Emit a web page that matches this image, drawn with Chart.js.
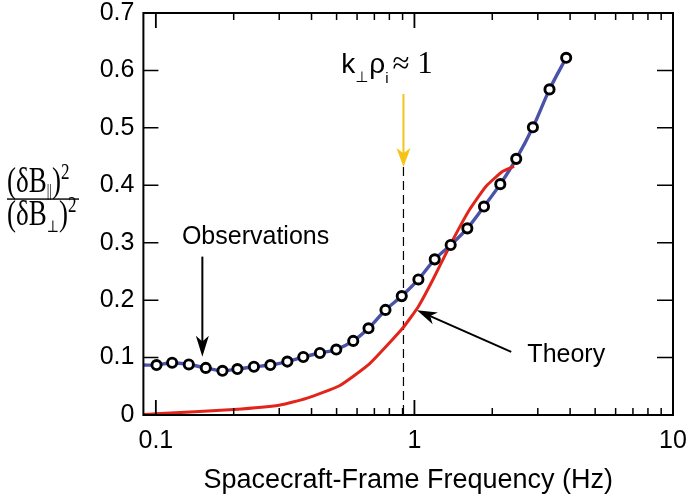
<!DOCTYPE html>
<html><head><meta charset="utf-8">
<script src="https://cdn.jsdelivr.net/npm/chart.js@4.4.0/dist/chart.umd.min.js"></script>
<style>html,body{margin:0;padding:0;background:#fff}#wrap{width:687px;height:500px}</style>
</head><body><div id="wrap"><canvas id="c" width="687" height="500"></canvas></div>
<script>
// ---- data ----
const obsFreq  = [0.1006, 0.1156, 0.1341, 0.156, 0.181, 0.2067, 0.2395, 0.2772, 0.3225, 0.3717, 0.431, 0.4985, 0.5799, 0.6644, 0.7727, 0.8933, 1.036, 1.198, 1.381, 1.602, 1.858, 2.148, 2.476, 2.872, 3.33, 3.863];
const obsValue = [0.087, 0.091, 0.088, 0.082, 0.077, 0.080, 0.084, 0.087, 0.093, 0.101, 0.108, 0.114, 0.129, 0.151, 0.183, 0.207, 0.236, 0.271, 0.296, 0.325, 0.363, 0.402, 0.446, 0.501, 0.567, 0.622];
const fitFreq  = [0.0895].concat(obsFreq);
const fitValue = [0.087].concat(obsValue);
const theoryFreq  = [0.0895, 0.1, 0.2, 0.3, 0.382, 0.513, 0.67, 0.9, 1.036, 1.177, 1.386, 1.63, 1.89, 2.19, 2.43];
const theoryValue = [0.001, 0.002, 0.0096, 0.017, 0.029, 0.051, 0.089, 0.151, 0.189, 0.235, 0.299, 0.357, 0.398, 0.424, 0.433];
const xMajorTicks = [0.1, 1, 10];
const xMinorTicks = [0.2,0.3,0.4,0.5,0.6,0.7,0.8,0.9,2,3,4,5,6,7,8,9];
const yTicks = [0, 0.1, 0.2, 0.3, 0.4, 0.5, 0.6, 0.7];
const kRhoFreq = 0.907;
const xTitle = 'Spacecraft-Frame Frequency (Hz)';

// ---- annotation placement (data coordinates) ----
const ann = {
  dashTop: 0.432,
  yellowTail: 0.559,
  kLabel: {f: 0.521, v: 0.596},
  obsText: {f: 0.243, v: 0.298},
  obsArrow: {f: 0.1513, v0: 0.2758, v1: 0.1016},
  thText: {f: 2.734, v: 0.0923},
  thArrow: {f0: 2.368, v0: 0.1098, f1: 1.023, v1: 0.1824},
  fracBar: 0.376
};

function pts(fs, vs){ return fs.map((f,i)=>({x:f, y:vs[i]})); }

function arrowHead(ctx, x0, y0, x1, y1, len, wid, color){
  const a = Math.atan2(y1-y0, x1-x0);
  const c = Math.cos(a), s = Math.sin(a);
  const bx = x1 - c*len, by = y1 - s*len;
  const nx = x1 - c*len*0.72, ny = y1 - s*len*0.72;
  ctx.fillStyle = color;
  ctx.beginPath();
  ctx.moveTo(x1, y1);
  ctx.lineTo(bx - s*wid/2, by + c*wid/2);
  ctx.lineTo(nx, ny);
  ctx.lineTo(bx + s*wid/2, by - c*wid/2);
  ctx.closePath(); ctx.fill();
}
function arrow(ctx, x0, y0, x1, y1, lw, len, wid, color){
  const a = Math.atan2(y1-y0, x1-x0);
  ctx.strokeStyle = color; ctx.lineWidth = lw;
  ctx.beginPath(); ctx.moveTo(x0, y0);
  ctx.lineTo(x1 - Math.cos(a)*len*0.6, y1 - Math.sin(a)*len*0.6); ctx.stroke();
  arrowHead(ctx, x0, y0, x1, y1, len, wid, color);
}
function parts(ctx, x, base, list){
  for (const [t, font, dy] of list){
    ctx.font = font; ctx.fillText(t, x, base + dy); x += ctx.measureText(t).width;
  }
  return x;
}

const deco = {
  id: 'deco',
  beforeDatasetsDraw(chart){
    const {ctx, chartArea:a, scales:{x, y}} = chart;
    const xp = x.getPixelForValue(kRhoFreq);
    ctx.save();
    ctx.strokeStyle = '#000'; ctx.lineWidth = 1.2; ctx.setLineDash([9,5]);
    ctx.beginPath(); ctx.moveTo(xp, y.getPixelForValue(ann.dashTop)); ctx.lineTo(xp, a.bottom); ctx.stroke();
    ctx.restore();
  },
  afterDatasetsDraw(chart){
    const {ctx, chartArea:a, scales:{x, y}} = chart;
    ctx.save();
    // ticks (inward)
    ctx.strokeStyle = '#000';
    const tick = (v, len, lw) => {
      const p = x.getPixelForValue(v); ctx.lineWidth = lw;
      ctx.beginPath(); ctx.moveTo(p, a.bottom); ctx.lineTo(p, a.bottom - len);
      ctx.moveTo(p, a.top); ctx.lineTo(p, a.top + len); ctx.stroke();
    };
    xMajorTicks.forEach(v => tick(v, 15, 1.8));
    xMinorTicks.forEach(v => tick(v, 7, 1.5));
    yTicks.forEach(v => {
      const p = y.getPixelForValue(v); ctx.lineWidth = 1.5;
      ctx.beginPath(); ctx.moveTo(a.left, p); ctx.lineTo(a.left + 15, p);
      ctx.moveTo(a.right, p); ctx.lineTo(a.right - 16, p); ctx.stroke();
    });
    // frame
    ctx.lineWidth = 2;
    ctx.strokeRect(a.left, a.top, a.right - a.left, a.bottom - a.top);

    // yellow arrow + label
    const kx = x.getPixelForValue(kRhoFreq);
    arrow(ctx, kx, y.getPixelForValue(ann.yellowTail), kx, y.getPixelForValue(ann.dashTop), 2, 19, 14, '#f6c416');
    ctx.fillStyle = '#000'; ctx.textBaseline = 'alphabetic'; ctx.textAlign = 'left';
    const kb = y.getPixelForValue(ann.kLabel.v);
    let tx = x.getPixelForValue(ann.kLabel.f);
    tx = parts(ctx, tx, kb, [['k','28px "Liberation Sans"',0],['\u22A5','15px "DejaVu Sans"',9]]);
    tx = parts(ctx, tx + 1, kb, [['\u03C1','28px "Liberation Sans"',0],['i','15px "Liberation Sans"',10]]);
    parts(ctx, tx + 4, kb, [['\u2248 1','31px "Liberation Serif"',0]]);

    // Observations
    ctx.font = '25px "Liberation Sans"';
    ctx.textAlign = 'center';
    ctx.fillText('Observations', x.getPixelForValue(ann.obsText.f), y.getPixelForValue(ann.obsText.v));
    const ox = x.getPixelForValue(ann.obsArrow.f);
    arrow(ctx, ox, y.getPixelForValue(ann.obsArrow.v0), ox, y.getPixelForValue(ann.obsArrow.v1), 2, 21, 13, '#000');
    // Theory
    ctx.fillStyle = '#000'; ctx.textAlign = 'left';
    ctx.font = '25px "Liberation Sans"';
    ctx.fillText('Theory', x.getPixelForValue(ann.thText.f), y.getPixelForValue(ann.thText.v));
    arrow(ctx, x.getPixelForValue(ann.thArrow.f0), y.getPixelForValue(ann.thArrow.v0),
               x.getPixelForValue(ann.thArrow.f1), y.getPixelForValue(ann.thArrow.v1), 2, 20, 13, '#000');

    // y-axis fraction label (vertically stretched as in the reference)
    ctx.fillStyle = '#000';
    const barY = y.getPixelForValue(ann.fracBar);
    ctx.fillRect(7, barY - 0.7, 72, 1.4);
    ctx.save();
    ctx.translate(0, barY);
    ctx.scale(1, 1.3);
    parts(ctx, 7, -5.6, [['(\u03B4B','27px "Liberation Serif"',0],['||','13px "Liberation Serif"',3],[')','27px "Liberation Serif"',0],['2','17px "Liberation Serif"',-10]]);
    parts(ctx, 7, 20.3, [['(\u03B4B','27px "Liberation Serif"',0],['\u22A5','13px "DejaVu Serif"',5],[')','27px "Liberation Serif"',0],['2','17px "Liberation Serif"',-10]]);
    ctx.restore();
    ctx.restore();
  }
};

new Chart(document.getElementById('c'), {
  type: 'scatter',
  data: { datasets: [
    { label: 'Observations', data: pts(obsFreq, obsValue), showLine: false, order: 0,
      pointRadius: 4.6, pointBorderWidth: 2.9, pointBackgroundColor: '#fff', pointBorderColor: '#000' },
    { label: 'Theory', data: pts(theoryFreq, theoryValue), showLine: true, order: 1,
      borderColor: '#e1251b', borderWidth: 3, pointRadius: 0, tension: 0.15 },
    { label: 'Fit', data: pts(fitFreq, fitValue), showLine: true, order: 2,
      borderColor: '#4b53a9', borderWidth: 3.4, pointRadius: 0, tension: 0.3 }
  ]},
  options: {
    responsive: false, animation: false, devicePixelRatio: 1,
    layout: { padding: { left: 0, right: 14, top: 13, bottom: 0 } },
    plugins: { legend: { display: false }, tooltip: { enabled: false } },
    scales: {
      x: { type: 'logarithmic', min: 0.0895, max: 10,
        afterFit: s => { s.height = 85; s.paddingLeft = 0; s.paddingRight = 0; },
        afterBuildTicks: s => { s.ticks = xMajorTicks.map(v => ({value: v})); },
        grid: { display: false, drawTicks: false }, border: { display: false },
        ticks: { padding: 14, color: '#000', autoSkip: false, maxRotation: 0,
          font: { family: '"Liberation Sans"', size: 25, lineHeight: 1 },
          callback: v => String(v) },
        title: { display: true, text: xTitle, color: '#000', padding: { top: 0, bottom: 3 },
          font: { family: '"Liberation Sans"', size: 27, lineHeight: 1.2 } } },
      y: { min: 0, max: 0.7,
        afterFit: s => { s.width = 143.4; s.paddingTop = 0; s.paddingBottom = 0; },
        afterBuildTicks: s => { s.ticks = yTicks.map(v => ({value: v})); },
        grid: { display: false, drawTicks: false }, border: { display: false },
        ticks: { padding: 9, color: '#000',
          font: { family: '"Liberation Sans"', size: 25, lineHeight: 1 },
          callback: v => String(v) } }
    }
  },
  plugins: [deco]
});
</script></body></html>
